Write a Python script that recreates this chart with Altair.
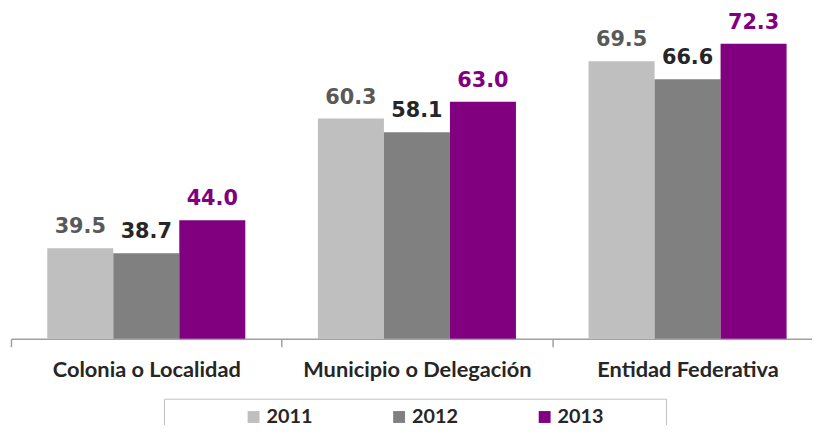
import altair as alt
import pandas as pd

categories = ["Colonia o Localidad", "Municipio o Delegación", "Entidad Federativa"]
years = ["2011", "2012", "2013"]
values_2011 = [39.5, 60.3, 69.5]
values_2012 = [38.7, 58.1, 66.6]
values_2013 = [44.0, 63.0, 72.3]

bar_colors = ["#bfbfbf", "#808080", "#800080"]
label_colors = ["#595959", "#262626", "#800080"]

rows = []
for i, c in enumerate(categories):
    for y, vals in zip(years, [values_2011, values_2012, values_2013]):
        rows.append({"categoria": c, "anio": y, "valor": vals[i], "etiqueta": f"{vals[i]:.1f}"})
df = pd.DataFrame(rows)

x_enc = alt.X(
    "categoria:N",
    sort=categories,
    scale=alt.Scale(range=[0, 820], paddingInner=0, paddingOuter=0),
    axis=alt.Axis(
        title=None,
        labelAngle=0,
        tickBand="extent",
        labelFont="Lato",
        labelFontSize=22,
        labelFontWeight="bold",
        labelColor="#262626",
        labelBaseline="alphabetic",
        labelPadding=30,
        labelLimit=0,
        domainColor="#a0a0a0",
        domainWidth=1.5,
        tickColor="#a0a0a0",
        tickWidth=1.5,
        tickSize=8,
        grid=False,
    ),
)
xoff = alt.XOffset("anio:N", sort=years, scale=alt.Scale(paddingInner=0, paddingOuter=0.55))
y_enc = alt.Y("valor:Q", scale=alt.Scale(domain=[25, 77.7], zero=False, nice=False), axis=None)

base = alt.Chart(df)

bars = base.mark_bar().encode(
    x=x_enc,
    xOffset=xoff,
    y=y_enc,
    y2=alt.datum(25),
    color=alt.Color(
        "anio:N",
        sort=years,
        scale=alt.Scale(domain=years, range=bar_colors),
        legend=alt.Legend(
            title=None,
            orient="none",
            legendX=235,
            legendY=401,
            direction="horizontal",
            columns=3,
            symbolType="square",
            symbolSize=144,
            symbolStrokeWidth=0,
            labelOffset=3,
            labelFont="Lato",
            labelFontSize=20,
            labelFontWeight="bold",
            labelColor="#262626",
            columnPadding=77,
            padding=0,
        ),
    ),
)

labels = base.mark_text(
    font="DejaVu Sans", fontSize=21, fontWeight="bold", baseline="alphabetic", dy=-15
).encode(
    x=x_enc,
    xOffset=xoff,
    y=y_enc,
    text="etiqueta:N",
    color=alt.Color("anio:N", sort=years, scale=alt.Scale(domain=years, range=label_colors), legend=None),
)

legend_frame = alt.Chart(pd.DataFrame({"frame": [0]})).mark_rect(
    fill="white", fillOpacity=0, stroke="#bfbfbf", strokeWidth=1
).encode(
    x=alt.value(155), x2=alt.value(662), y=alt.value(393), y2=alt.value(445)
)

chart = (
    alt.layer(bars, labels, legend_frame)
    .resolve_scale(color="independent")
    .properties(
        width=809,
        height=332,
        autosize=alt.AutoSizeParams(type="none"),
        padding={"left": 3, "top": 0, "right": 0, "bottom": 85},
    )
    .configure_view(stroke=None)
)

chart.save("out.html", embed_options={"renderer": "svg", "actions": False})
